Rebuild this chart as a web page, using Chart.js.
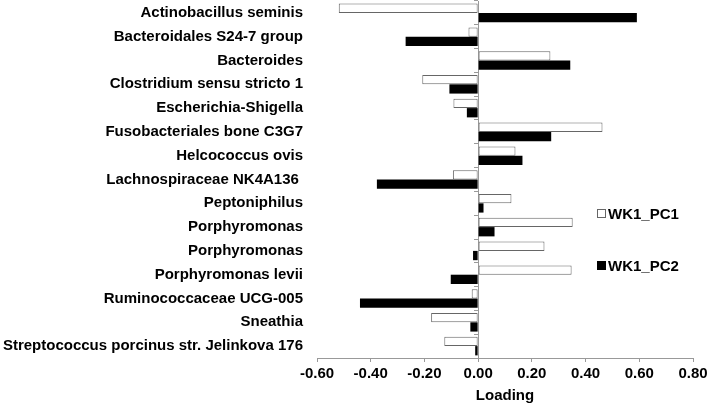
<!DOCTYPE html>
<html>
<head>
<meta charset="utf-8">
<script src="https://cdn.jsdelivr.net/npm/chart.js@4"></script>
<style>
html,body{margin:0;padding:0;background:#fff;}
#wrap{width:709px;height:405px;position:relative;}
</style>
</head>
<body>
<div id="wrap"><canvas id="c" width="709" height="405"></canvas></div>
<script>
const categories = [
  "Actinobacillus seminis",
  "Bacteroidales S24-7 group",
  "Bacteroides",
  "Clostridium sensu stricto 1",
  "Escherichia-Shigella",
  "Fusobacteriales bone C3G7",
  "Helcococcus ovis",
  "Lachnospiraceae NK4A136 ",
  "Peptoniphilus",
  "Porphyromonas",
  "Porphyromonas",
  "Porphyromonas levii",
  "Ruminococcaceae UCG-005",
  "Sneathia",
  "Streptococcus porcinus str. Jelinkova 176"
];
const seriesNames = ["WK1_PC1", "WK1_PC2"];
const pc1 = [-0.519, -0.036, 0.269, -0.208, -0.092, 0.463, 0.139, -0.094, 0.124, 0.352, 0.247, 0.348, -0.024, -0.175, -0.126];
const pc2 = [0.591, -0.270, 0.343, -0.107, -0.042, 0.272, 0.165, -0.377, 0.020, 0.061, -0.019, -0.102, -0.440, -0.029, -0.011];
const xTicks = [-0.6, -0.4, -0.2, 0.0, 0.2, 0.4, 0.6, 0.8];

const FONT = "'Liberation Sans', Arial, sans-serif";

const legendPlugin = {
  id: 'customLegend',
  afterDraw(chart) {
    const ctx = chart.ctx;
    const items = [
      {name: seriesNames[0], fill: '#ffffff', stroke: '#666666', y: 214},
      {name: seriesNames[1], fill: '#000000', stroke: '#000000', y: 266}
    ];
    ctx.save();
    ctx.font = "bold 15px " + FONT;
    ctx.textBaseline = 'middle';
    items.forEach(it => {
      ctx.fillStyle = it.fill;
      ctx.fillRect(597.5, it.y - 4.5, 8, 8);
      ctx.strokeStyle = it.stroke;
      ctx.lineWidth = 1;
      ctx.strokeRect(597.5, it.y - 4.5, 8, 8);
      ctx.fillStyle = '#000';
      ctx.fillText(it.name, 608, it.y + 1);
    });
    ctx.restore();
  }
};

new Chart(document.getElementById('c'), {
  type: 'bar',
  data: {
    labels: categories,
    datasets: [
      {label: seriesNames[0], data: pc1, backgroundColor: '#ffffff', borderColor: '#666666', borderWidth: 1, borderSkipped: false, categoryPercentage: 0.78, barPercentage: 1.0},
      {label: seriesNames[1], data: pc2, backgroundColor: '#000000', borderColor: '#000000', borderWidth: 0, categoryPercentage: 0.78, barPercentage: 1.0}
    ]
  },
  options: {
    indexAxis: 'y',
    responsive: false,
    animation: false,
    layout: {padding: {top: 1, right: 16, left: 0, bottom: 0}},
    plugins: {legend: {display: false}, tooltip: {enabled: false}},
    scales: {
      x: {
        type: 'linear',
        min: -0.6, max: 0.8,
        afterBuildTicks(scale) { scale.ticks = xTicks.map(v => ({value: v})); },
        afterFit(scale) { scale.height = 47; scale.paddingLeft = 0; scale.paddingRight = 0; },
        border: {display: true, color: '#999999', width: 1},
        grid: {drawOnChartArea: false, drawTicks: true, tickLength: 4, color: '#999999'},
        ticks: {
          color: '#000',
          font: {family: FONT, size: 15, weight: 'bold'},
          padding: 3,
          maxRotation: 0,
          callback: v => Number(v).toFixed(2)
        },
        title: {display: true, text: 'Loading', color: '#000', font: {family: FONT, size: 15, weight: 'bold'}, padding: {top: 0, bottom: 0}}
      },
      y: {
        type: 'category',
        position: 'left',
        offset: true,
        afterFit(scale) { scale.width = 317; scale.paddingTop = 0; scale.paddingBottom = 0; },
        border: {display: false},
        grid: {display: true, drawOnChartArea: false, drawTicks: true, tickLength: 14, color: 'rgba(0,0,0,0)'},
        ticks: {
          color: '#000',
          font: {family: FONT, size: 15, weight: 'bold'},
          padding: 0,
          autoSkip: false
        }
      },
      y2: {
        type: 'category',
        labels: categories,
        position: {x: 0},
        offset: true,
        afterFit(scale) { scale.paddingTop = 0; scale.paddingBottom = 0; },
        border: {display: true, color: '#999999', width: 1},
        grid: {drawOnChartArea: false, drawTicks: true, tickLength: 4, color: '#999999', offset: true},
        ticks: {display: false, autoSkip: false}
      }
    }
  },
  plugins: [legendPlugin]
});
</script>
</body>
</html>
